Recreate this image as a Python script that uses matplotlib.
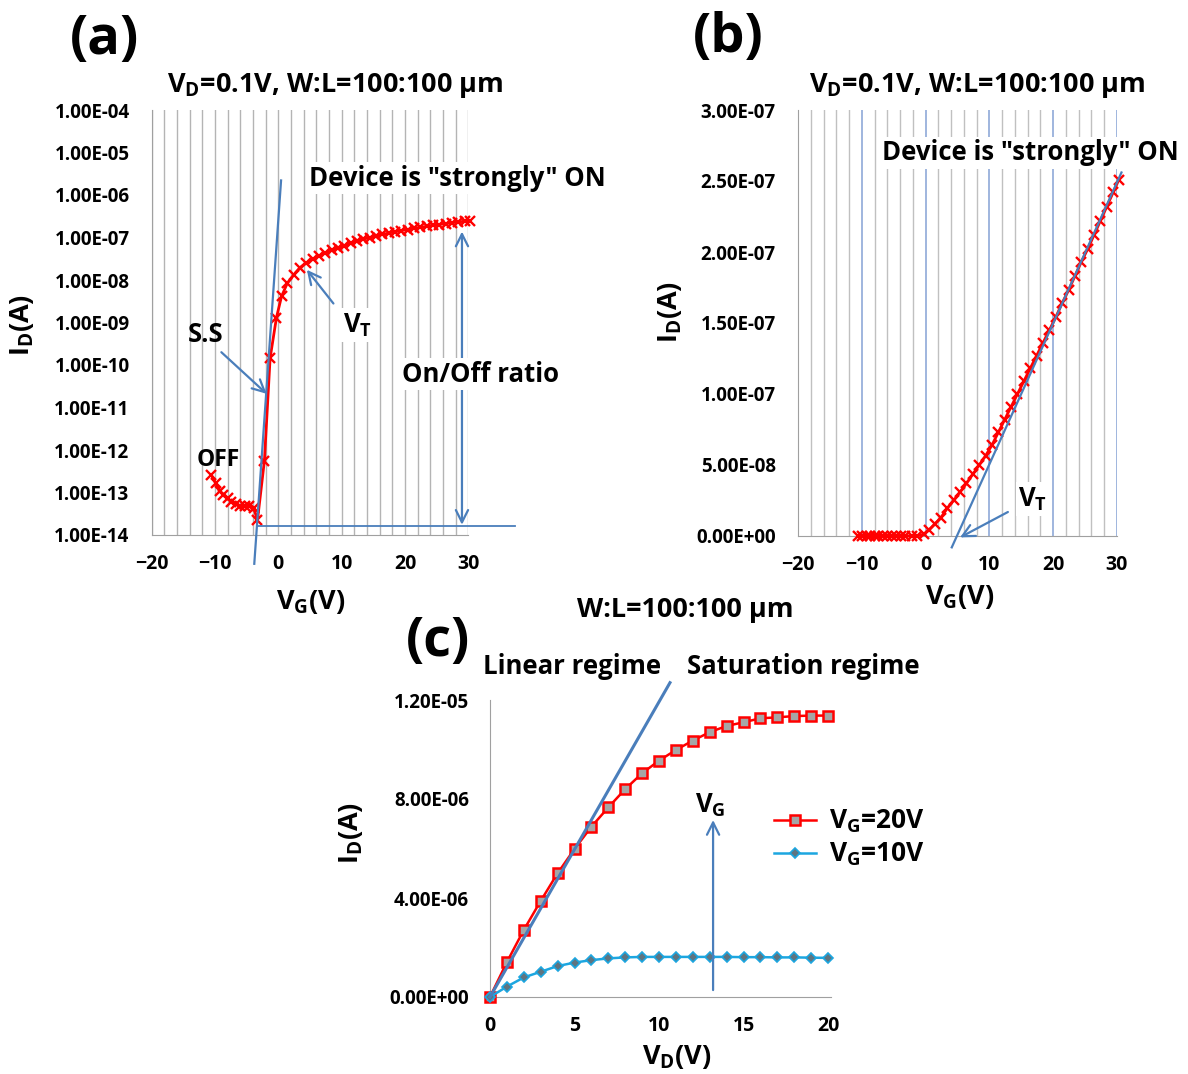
import numpy as np
import matplotlib.pyplot as plt
from matplotlib.ticker import FuncFormatter, NullLocator

plt.rcParams['font.family'] = ['Open Sans', 'DejaVu Sans']
plt.rcParams['font.weight'] = 'bold'
plt.rcParams['mathtext.fontset'] = 'custom'
plt.rcParams['mathtext.rm'] = 'Open Sans:bold'
plt.rcParams['mathtext.it'] = 'Open Sans:bold'
plt.rcParams['mathtext.bf'] = 'Open Sans:bold'
plt.rcParams['mathtext.default'] = 'rm'

###############################################################################
# Transfer curve, V_D = 0.1 V
vg = [-10.6, -9.9, -9.2, -8.7, -8.0, -7.4, -6.7, -6.0, -5.3, -4.6, -3.9, -3.3,
      -2.2, -1.3, -0.3, 0.5, 1.4, 2.4, 3.4, 4.4, 5.4, 6.4, 7.4, 8.4, 9.4,
      10.4, 11.4, 12.4, 13.4, 14.4, 15.4, 16.4, 17.4, 18.4, 19.4, 20.4,
      21.4, 22.4, 23.4, 24.4, 25.4, 26.4, 27.4, 28.4, 29.4, 30.3]
id_transfer = [2.6e-13, 1.65e-13, 1.1e-13, 8.7e-14, 7.3e-14, 6.0e-14, 5.4e-14,
               4.8e-14, 4.8e-14, 4.8e-14, 4.4e-14, 2.2e-14,
               5.6e-13, 1.45e-10, 1.3e-9, 4.1e-9, 8.3e-9, 1.3e-8, 1.95e-8,
               2.5e-8, 3.1e-8, 3.7e-8, 4.35e-8, 5.0e-8, 5.65e-8,
               6.4e-8, 7.3e-8, 8.2e-8, 9.1e-8, 1.0e-7, 1.09e-7, 1.18e-7,
               1.27e-7, 1.36e-7, 1.45e-7, 1.54e-7,
               1.64e-7, 1.73e-7, 1.83e-7, 1.93e-7, 2.02e-7, 2.12e-7, 2.22e-7,
               2.32e-7, 2.42e-7, 2.51e-7]

# guide lines on the transfer curves
ss_vg = [-3.8, 0.43]           # subthreshold slope tangent (log plot)
ss_id = [2.1e-15, 2.2e-6]
off_vg = [-3.2, 37.4]          # off-current level
off_id = [1.6e-14, 1.6e-14]
onoff_vg = 29.0                # on/off ratio arrow
onoff_id = [1.38e-7, 1.74e-14]
lin_vg = [4.1, 30.7]           # linear extrapolation for V_T
lin_id = [-0.08e-7, 2.56e-7]

###############################################################################
# Output curves
vd = [0, 1, 2, 3, 4, 5, 6, 7, 8, 9, 10, 11, 12, 13, 14, 15, 16, 17, 18, 19, 20]
id_vg20 = [0, 1.41, 2.71, 3.88, 5.0, 5.98, 6.88, 7.66, 8.4, 9.04, 9.55, 9.98,
           10.36, 10.7, 10.95, 11.1, 11.26, 11.3, 11.35, 11.37, 11.37]
id_vg10 = [0, 0.42, 0.79, 1.02, 1.25, 1.39, 1.49, 1.56, 1.60, 1.62, 1.62, 1.62,
           1.62, 1.62, 1.62, 1.61, 1.61, 1.60, 1.60, 1.59, 1.58]
id_vg20 = [v * 1e-6 for v in id_vg20]
id_vg10 = [v * 1e-6 for v in id_vg10]
tan_vd = [0, 10.65]
tan_id = [0, 12.7e-6]

W, H = 1188, 1074
red = '#ff0000'
blue = '#4a7ebb'
gray = '#a6a6a6'


def px(x, y):
    return x / W, 1 - y / H


def sci(v, pos):
    return '{:.2E}'.format(v)


fig = plt.figure(figsize=(W / 100, H / 100), dpi=100)

###############################################################################
# (a) log scale
ax1 = fig.add_axes([151.7 / W, 1 - 535 / H, 316.6 / W, 425 / H])
ax1.set_yscale('log')
ax1.set_xlim(-20, 30)
ax1.set_ylim(1e-14, 1e-4)
ax1.set_xticks([-20, -10, 0, 10, 20, 30])
ax1.set_xticks(np.arange(-20, 31, 2), minor=True)
ax1.set_yticks([10.0 ** k for k in range(-14, -3)])
ax1.yaxis.set_minor_locator(NullLocator())
ax1.yaxis.set_major_formatter(FuncFormatter(sci))
ax1.grid(True, which='both', axis='x', color='#b4b4b4', lw=1)

ax1.plot(vg, id_transfer, c=red, lw=2, marker='x', ms=6.5, mew=1.7, zorder=3,
         clip_on=False)
ax1.plot(ss_vg, ss_id, c=blue, lw=1.6, clip_on=False, zorder=4)
ax1.plot(off_vg, off_id, c=blue, lw=1.3, clip_on=False, zorder=4)
ax1.annotate('', xy=(onoff_vg, onoff_id[0]), xytext=(onoff_vg, onoff_id[1]),
             arrowprops=dict(arrowstyle='<->', color=blue, lw=1.6,
                             mutation_scale=22, shrinkA=0, shrinkB=0))
ax1.annotate('', xy=(4.5, 1.74e-8), xytext=(8.7, 2.8e-9),
             arrowprops=dict(arrowstyle='->', color=blue, lw=1.6,
                             mutation_scale=22, shrinkA=0, shrinkB=0))
ax1.annotate('', xy=(-1.85, 2.1e-11), xytext=(-9.0, 2.0e-10),
             arrowprops=dict(arrowstyle='->', color=blue, lw=1.6,
                             mutation_scale=22, shrinkA=0, shrinkB=0))

###############################################################################
# (b) linear scale
ax2 = fig.add_axes([798 / W, 1 - 536 / H, 319 / W, 426 / H])
ax2.set_xlim(-20, 30)
ax2.set_ylim(0, 3e-7)
ax2.set_xticks([-20, -10, 0, 10, 20, 30])
ax2.set_xticks(np.arange(-20, 31, 2), minor=True)
ax2.set_yticks(np.arange(0, 3.01e-7, 0.5e-7))
ax2.yaxis.set_major_formatter(FuncFormatter(sci))
ax2.grid(True, which='minor', axis='x', color='#c0c0c0', lw=1)
ax2.grid(True, which='major', axis='x', color='#8fa9d8', lw=1.2)

ax2.plot(vg, id_transfer, c=red, lw=2, marker='x', ms=6.5, mew=1.7, zorder=3,
         clip_on=False)
ax2.plot(lin_vg, lin_id, c=blue, lw=1.6, clip_on=False, zorder=4)
ax2.annotate('', xy=(5.4, -0.01e-7), xytext=(12.9, 0.169e-7),
             arrowprops=dict(arrowstyle='->', color=blue, lw=1.6,
                             mutation_scale=22, shrinkA=0, shrinkB=0),
             annotation_clip=False)

tick_y = 13.5
tick_x = 14
for ax in (ax1, ax2):
    for s in ('top', 'right'):
        ax.spines[s].set_visible(False)
    ax.spines['left'].set_color('#a0a0a0')
    ax.spines['bottom'].set_color('#a0a0a0')
    ax.spines['left'].set_zorder(2)
    ax.tick_params(which='both', length=0)
    ax.tick_params(axis='y', pad=16, labelsize=tick_y)
    ax.tick_params(axis='x', pad=14, labelsize=tick_x)

###############################################################################
# (c) output curves
ax3 = fig.add_axes([490 / W, 1 - 997 / H, 338 / W, 297 / H])
ax3.set_xlim(0, 20)
ax3.set_ylim(0, 1.2e-5)
ax3.set_xticks([0, 5, 10, 15, 20])
ax3.set_yticks([0, 4e-6, 8e-6, 1.2e-5])
ax3.yaxis.set_major_formatter(FuncFormatter(sci))
for s in ('top', 'right'):
    ax3.spines[s].set_visible(False)
ax3.spines['left'].set_color('#a0a0a0')
ax3.spines['bottom'].set_color('#a0a0a0')
ax3.spines['bottom'].set_bounds(0, 20.2)
ax3.tick_params(length=0)
ax3.tick_params(axis='y', pad=15, labelsize=tick_y)
ax3.tick_params(axis='x', pad=14, labelsize=tick_x)

ax3.plot(vd, id_vg20, c=red, lw=1.8, marker='s', ms=7, mfc=gray, mec=red,
         mew=1.8, label=r'V$_{\rm G}$=20V', clip_on=False, zorder=3)
ax3.plot(vd, id_vg10, c='#1ca6e0', lw=1.8, marker='D', ms=5, mfc='#5f7480',
         mec='#1ca6e0', mew=1.2, label=r'V$_{\rm G}$=10V', clip_on=False,
         zorder=3)
ax3.plot(tan_vd, tan_id, c=blue, lw=2.2, clip_on=False, zorder=4)
ax3.annotate('', xy=(13.2, 7.15e-6), xytext=(13.2, 0.28e-6),
             arrowprops=dict(arrowstyle='->', color=blue, lw=1.6,
                             mutation_scale=22, shrinkA=0, shrinkB=0))
ax3.legend(loc='center left', bbox_to_anchor=(0.8, 0.535), frameon=False,
           fontsize=19, handlelength=1.6, handletextpad=0.5, labelspacing=0.2,
           borderpad=0)

###############################################################################
# labels and annotations
box = dict(facecolor='white', edgecolor='none', pad=2)
fs = 18.5
fl = 19.5

fig.text(*px(105, 40), '(a)', fontsize=39, ha='center', va='center')
fig.text(*px(728, 38), '(b)', fontsize=39, ha='center', va='center')
fig.text(*px(438, 642), '(c)', fontsize=39, ha='center', va='center')

title = r'V$_{\rm D}$=0.1V, W:L=100:100 µm'
fig.text(*px(335, 86), title, fontsize=fl, ha='center', va='center')
fig.text(*px(977, 86), title, fontsize=fl, ha='center', va='center')
fig.text(*px(685, 610), 'W:L=100:100 µm', fontsize=fl, ha='center', va='center')

fig.text(*px(22, 325), r'I$_{\rm D}$(A)', fontsize=fl, rotation=90,
         ha='center', va='center')
fig.text(*px(311, 602), r'V$_{\rm G}$(V)', fontsize=fl, ha='center', va='center')
fig.text(*px(670, 312), r'I$_{\rm D}$(A)', fontsize=fl, rotation=90,
         ha='center', va='center')
fig.text(*px(960, 597), r'V$_{\rm G}$(V)', fontsize=fl, ha='center', va='center')
fig.text(*px(351, 833), r'I$_{\rm D}$(A)', fontsize=fl, rotation=90,
         ha='center', va='center')
fig.text(*px(677, 1057), r'V$_{\rm D}$(V)', fontsize=fl, ha='center', va='center')

fig.text(*px(457, 178), 'Device is "strongly" ON', fontsize=fs, ha='center',
         va='center', bbox=box, zorder=5)
fig.text(*px(206, 335), 'S.S', fontsize=fs, ha='center', va='center')
fig.text(*px(358, 325), r'V$_{\rm T}$', fontsize=fs, ha='center', va='center',
         bbox=box)
fig.text(*px(481, 374), 'On/Off ratio', fontsize=fs, ha='center', va='center',
         bbox=box)
fig.text(*px(218, 460), 'OFF', fontsize=fs - 2, ha='center', va='center')

fig.text(*px(1030, 153), 'Device is "strongly" ON', fontsize=fs, ha='center',
         va='center', bbox=box)
fig.text(*px(1033, 499), r'V$_{\rm T}$', fontsize=fs, ha='center', va='center',
         bbox=box)

fig.text(*px(572, 667), 'Linear regime', fontsize=fs, ha='center', va='center')
fig.text(*px(803, 667), 'Saturation regime', fontsize=fs, ha='center',
         va='center')
fig.text(*px(710, 805), r'V$_{\rm G}$', fontsize=fs, ha='center', va='center')

plt.savefig('out.png', dpi=100, facecolor='white')
